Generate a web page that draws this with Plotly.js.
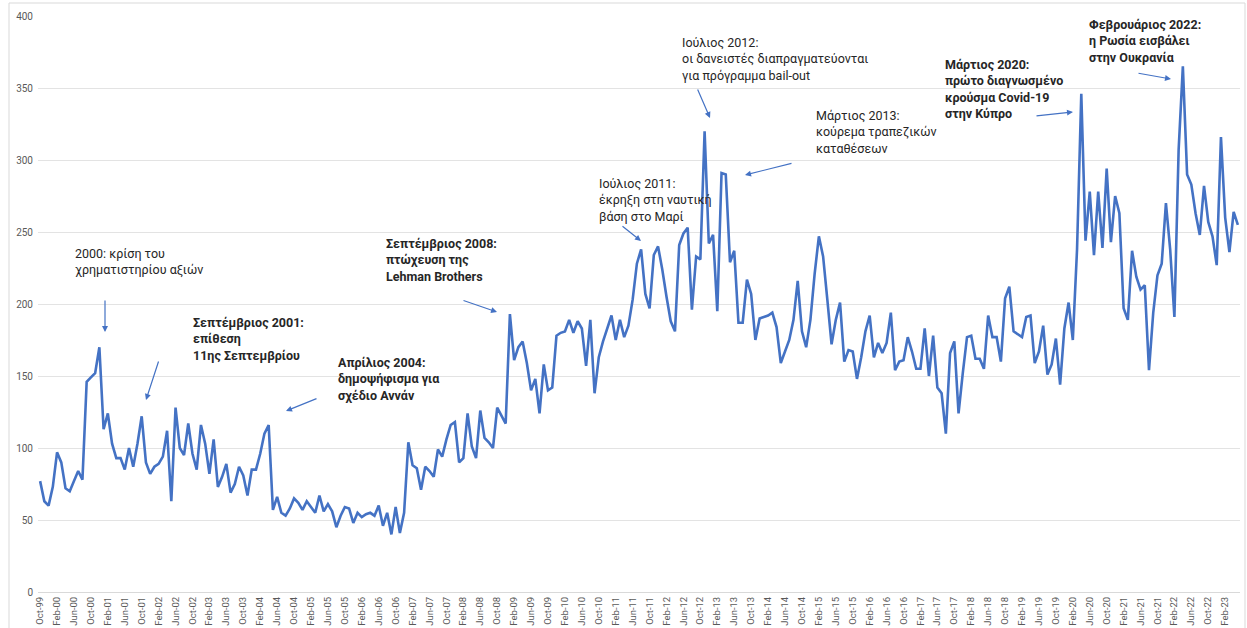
<!DOCTYPE html>
<html>
<head>
<meta charset="utf-8">
<script src="https://cdn.plot.ly/plotly-3.0.1.min.js"></script>
<style>
html, body { margin: 0; padding: 0; background: #ffffff; }
#chart { width: 1247px; height: 628px; }
</style>
</head>
<body>
<div id="chart"></div>
<script>
// ---- data ----
const monthNames = ['Jan','Feb','Mar','Apr','May','Jun','Jul','Aug','Sep','Oct','Nov','Dec'];
const firstYear = 1999;
const firstMonth = 10; // October 1999

const values = [
  77, 63, 60, 73, 97, 90, 72, 70, 77, 84, 78, 146,
  149, 152, 170, 113, 124, 103, 93, 93, 85, 100, 87, 103,
  122, 90, 82, 87, 89, 94, 112, 63, 128, 100, 95, 117,
  96, 85, 116, 103, 82, 106, 73, 80, 89, 69, 75, 87,
  81, 67, 85, 85, 96, 110, 116, 57, 66, 55, 53, 58,
  65, 62, 57, 63, 59, 55, 67, 56, 61, 56, 45, 53,
  59, 58, 48, 55, 52, 54, 55, 53, 60, 46, 55, 40,
  59, 41, 55, 104, 88, 86, 71, 87, 84, 80, 99, 94,
  106, 116, 118, 90, 93, 124, 101, 93, 126, 107, 104, 100,
  128, 123, 117, 193, 161, 170, 174, 159, 140, 148, 124, 158,
  140, 142, 178, 180, 181, 189, 180, 188, 183, 157, 189, 138,
  163, 174, 183, 192, 175, 189, 177, 185, 203, 228, 238, 207,
  197, 234, 240, 224, 205, 188, 181, 241, 249, 253, 196, 233,
  231, 320, 242, 248, 195, 291, 290, 229, 237, 187, 187, 217,
  207, 175, 190, 191, 192, 194, 184, 159, 167, 175, 189, 216,
  181, 170, 189, 221, 247, 233, 203, 172, 189, 201, 160, 168,
  167, 148, 163, 181, 192, 163, 173, 166, 173, 194, 154, 160,
  161, 177, 167, 155, 155, 183, 150, 178, 142, 138, 110, 166,
  174, 124, 152, 177, 178, 162, 162, 155, 192, 177, 177, 160,
  204, 212, 181, 179, 177, 191, 192, 159, 167, 185, 151, 158,
  176, 144, 183, 201, 175, 238, 346, 244, 278, 234, 278, 239,
  294, 243, 275, 263, 197, 189, 237, 219, 210, 213, 154, 194,
  220, 228, 270, 238, 191, 307, 365, 290, 283, 263, 248, 282,
  257, 247, 227, 316, 260, 236, 264, 255
];

// category labels such as "Oct-99"
const categories = values.map(function (_, k) {
  const n = firstMonth - 1 + k;
  const m = n % 12;
  const y = firstYear + Math.floor(n / 12);
  return monthNames[m] + '-' + String(y % 100).padStart(2, '0');
});
const tickStep = 4;
const tickCategories = categories.filter(function (_, k) { return k % tickStep === 0; });

const yTicks = [0, 50, 100, 150, 200, 250, 300, 350, 400];

// ---- layout helpers (pixel -> paper) ----
const W = 1247, H = 628;
const M = { l: 38, r: 7, t: 16, b: 36 };
const plotW = W - M.l - M.r, plotH = H - M.t - M.b;
function px(x) { return (x - M.l) / plotW; }
function py(y) { return (H - M.b - y) / plotH; }

const textFont = { family: 'Roboto, "Open Sans", sans-serif', size: 12.5, color: '#262626' };
function note(x, yTop, text) {
  return { xref: 'paper', yref: 'paper', x: px(x), y: py(yTop), xanchor: 'left', yanchor: 'top',
           align: 'left', showarrow: false, text: text, font: textFont };
}
function arrow(tx, ty, hx, hy) {
  return { xref: 'paper', yref: 'paper', x: px(hx), y: py(hy), ax: tx - hx, ay: ty - hy,
           text: '', showarrow: true, arrowhead: 2, arrowsize: 1, arrowwidth: 1.2,
           arrowcolor: '#4472C4', standoff: 0, startstandoff: 0 };
}

const annotations = [
  note(73, 244, '2000: κρίση του<br>χρηματιστηρίου αξιών'),
  arrow(105, 299, 105, 332),
  note(191, 313, '<b>Σεπτέμβριος 2001:</b><br><b>επίθεση</b><br><b>11ης Σεπτεμβρίου</b>'),
  arrow(159, 360, 146, 400),
  note(336, 353, '<b>Απρίλιος 2004:</b><br><b>δημοψήφισμα για</b><br><b>σχέδιο Αννάν</b>'),
  arrow(318, 398, 286, 411),
  note(384, 234, '<b>Σεπτέμβριος 2008:</b><br><b>πτώχευση της</b><br><b>Lehman Brothers</b>'),
  arrow(462, 300, 497, 312),
  note(597, 174, 'Ιούλιος 2011:<br>έκρηξη στη ναυτική<br>βάση στο Μαρί'),
  arrow(621, 225, 641, 241),
  note(680, 33, 'Ιούλιος 2012:<br>οι δανειστές διαπραγματεύονται<br>για πρόγραμμα bail-out'),
  arrow(697, 88, 710, 118),
  note(814, 106, 'Μάρτιος 2013:<br>κούρεμα τραπεζικών<br>καταθέσεων'),
  arrow(793, 163, 745, 175),
  note(943, 55, '<b>Μάρτιος 2020:</b><br><b>πρώτο διαγνωσμένο</b><br><b>κρούσμα Covid-19</b><br><b>στην Κύπρο</b>'),
  arrow(1035, 116, 1073, 112),
  note(1087, 15, '<b>Φεβρουάριος 2022:</b><br><b>η Ρωσία εισβάλει</b><br><b>στην Ουκρανία</b>'),
  arrow(1137, 73, 1171, 79)
];

const trace = {
  type: 'scatter',
  mode: 'lines',
  x: categories,
  y: values,
  line: { color: '#4472C4', width: 2.6, shape: 'linear' },
  hoverinfo: 'x+y'
};

const layout = {
  width: W, height: H,
  margin: M,
  paper_bgcolor: '#ffffff',
  plot_bgcolor: '#ffffff',
  showlegend: false,
  font: { family: 'Roboto, "Open Sans", sans-serif', color: '#595959' },
  xaxis: {
    type: 'category',
    categoryorder: 'array',
    categoryarray: categories,
    range: [-0.5, categories.length - 0.5],
    tickmode: 'array',
    tickvals: tickCategories,
    ticktext: tickCategories,
    tickangle: -90,
    tickfont: { size: 9.5, color: '#595959' },
    showgrid: false,
    zeroline: false,
    showline: true,
    linecolor: '#d9d9d9',
    linewidth: 1,
    ticks: '',
    fixedrange: true
  },
  yaxis: {
    range: [0, 400],
    tickmode: 'array',
    tickvals: yTicks,
    ticktext: yTicks.map(String),
    tickfont: { size: 10, color: '#595959' },
    showgrid: true,
    gridcolor: '#e3e3e3',
    gridwidth: 1,
    zeroline: false,
    showline: false,
    ticks: '',
    ticklabelstandoff: 4,
    fixedrange: true
  },
  shapes: [
    { type: 'rect', xref: 'paper', yref: 'paper', x0: px(9), x1: px(1245), y0: py(640), y1: py(3),
      line: { color: '#d9d9d9', width: 1 }, fillcolor: 'rgba(0,0,0,0)', layer: 'below' }
  ],
  annotations: annotations
};

Plotly.newPlot('chart', [trace], layout, { displayModeBar: false, staticPlot: true });
</script>
</body>
</html>
